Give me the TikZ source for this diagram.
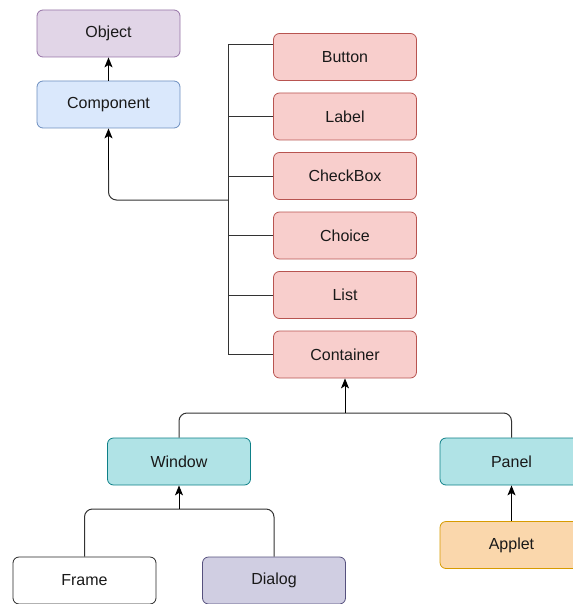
\documentclass[tikz,border=0pt]{standalone}
\usepackage{fontspec}
\setmainfont{Liberation Sans}
\usetikzlibrary{arrows.meta}

\definecolor{objfill}{HTML}{E1D5E7}  \definecolor{objline}{HTML}{9673A6}
\definecolor{compfill}{HTML}{DAE8FC} \definecolor{compline}{HTML}{6C8EBF}
\definecolor{redfill}{HTML}{F8CECC}  \definecolor{redline}{HTML}{B85450}
\definecolor{tealfill}{HTML}{B0E3E6} \definecolor{tealline}{HTML}{0E8088}
\definecolor{orgfill}{HTML}{FAD7AC}  \definecolor{orgline}{HTML}{D79B00}
\definecolor{dlgfill}{HTML}{D0CEE2}  \definecolor{dlgline}{HTML}{56517E}
\definecolor{wire}{HTML}{333333}

\tikzset{
  cls/.style={draw, rounded corners=6pt, line width=0.8pt, minimum width=143pt,
    minimum height=47pt, inner sep=0pt, text=black!90,
    font=\fontsize{16}{19}\selectfont},
  objbox/.style={cls, fill=objfill, draw=objline},
  compbox/.style={cls, fill=compfill, draw=compline},
  redbox/.style={cls, fill=redfill, draw=redline},
  tealbox/.style={cls, fill=tealfill, draw=tealline},
  orgbox/.style={cls, fill=orgfill, draw=orgline},
  dlgbox/.style={cls, fill=dlgfill, draw=dlgline},
  plainbox/.style={cls, fill=white, draw=black!85},
  wirel/.style={draw=wire, line width=1pt},
  arr/.style={draw=black, line width=1pt,
    -{Stealth[length=10pt,width=8pt,inset=2.5pt]}}
}

\begin{document}
\begin{tikzpicture}[x=1pt,y=-1pt]
  \useasboundingbox (0,0) rectangle (572,604);

  % classes
  \node[objbox]  (object)    at (108.5,33.5)  {Object};
  \node[compbox] (component) at (108.5,104.5) {Component};
  \node[redbox]  (button)    at (345,57)      {Button};
  \node[redbox]  (label)     at (345,116.5)   {Label};
  \node[redbox]  (checkbox)  at (345,176)     {CheckBox};
  \node[redbox]  (choice)    at (345,235.5)   {Choice};
  \node[redbox]  (list)      at (345,295)     {List};
  \node[redbox]  (container) at (345,354.5)   {Container};
  \node[tealbox] (window)    at (179,461.5)   {Window};
  \node[tealbox] (panel)     at (511.5,461.5) {Panel};
  \node[orgbox]  (applet)    at (511.5,545)   {Applet};
  \node[plainbox](frame)     at (84.5,580.5)  {Frame};
  \node[dlgbox]  (dialog)    at (274,580.5)   {Dialog};

  % junctions
  \coordinate (trunktop) at (228,45);
  \coordinate (trunk)    at (228,200);
  \coordinate (bend)     at (108.5,170);
  \coordinate (split)    at (345,413);
  \coordinate (splitw)   at (179,509);

  % Component side
  \draw[arr] (component) -- (object);
  \draw[wirel] (button.west |- trunktop) -- (trunktop) |- (container.west);
  \foreach \c in {label,checkbox,choice,list}
    \draw[wirel] (\c.west) -- (\c.west -| trunk);
  \draw[wirel, rounded corners=8pt] (trunk) -| (bend);
  \draw[arr] (bend) -- (component.south);

  % Container side
  \draw[wirel, rounded corners=8pt] (window.north) |- (split) -| (panel.north);
  \draw[arr] (split) -- (container.south);
  \draw[wirel, rounded corners=8pt] (frame.north) |- (splitw) -| (dialog.north);
  \draw[arr] (splitw) -- (window.south);
  \draw[arr] (applet) -- (panel);
\end{tikzpicture}
\end{document}
